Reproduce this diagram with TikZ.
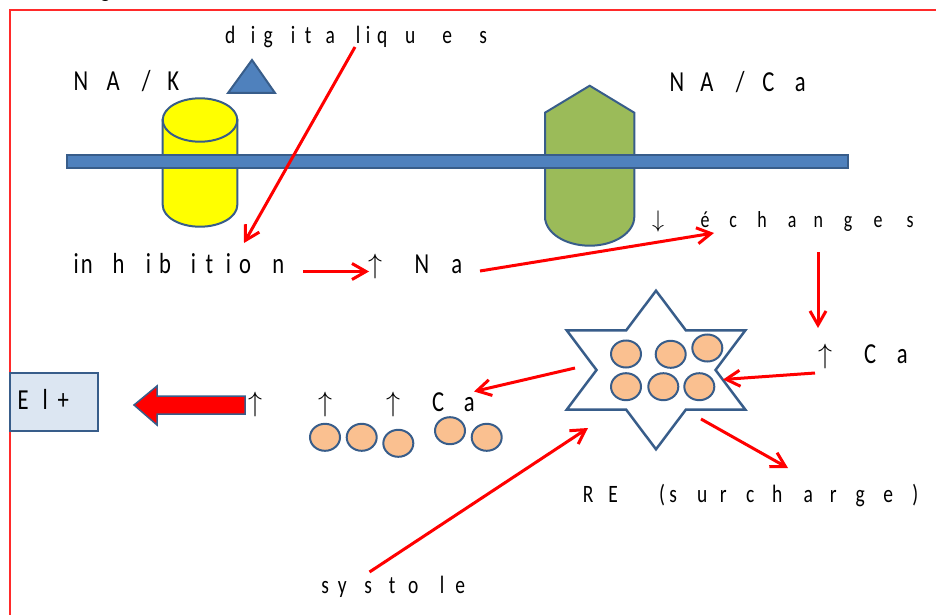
\RequirePackage{fix-cm}
\documentclass[tikz,border=0pt]{standalone}
\usepackage{fontspec}
\usepackage{graphicx}
\setmainfont{Carlito}[FakeStretch=0.78]
\usetikzlibrary{arrows.meta,shapes.geometric}

% one glyph centred on the current point, then a kern to the next glyph centre
\newcommand\glyphat[2]{\hbox to 0pt{\hss#1\hss}\kern#2pt\relax}
\newcommand\up{{\fontsize{28}{30}\selectfont$\uparrow$}}
\newcommand\down{{\fontsize{24}{26}\selectfont$\downarrow$}}

\definecolor{edge}{HTML}{385D8A}
\definecolor{membrane}{HTML}{4F81BD}
\definecolor{pump}{HTML}{FFFF00}
\definecolor{exchanger}{HTML}{9BBB59}
\definecolor{calcium}{HTML}{FAC090}
\definecolor{ecg}{HTML}{DCE6F2}
\definecolor{framered}{HTML}{FF2A2A}

\tikzset{
  lbl/.style={anchor=base west, inner sep=0pt, font=\fontsize{29}{32}\selectfont},
  midlbl/.style={lbl, font=\fontsize{25}{28}\selectfont},
  smalllbl/.style={lbl, font=\fontsize{23}{26}\selectfont},
  flow/.style={draw=red, line width=3pt,
    -{Straight Barb[length=14pt,width=16pt,line width=3pt]}},
  ion/.style={ellipse, draw=edge, line width=2pt, fill=calcium,
    minimum width=30pt, minimum height=27pt, inner sep=0pt},
  outlined/.style={draw=edge, line width=2pt},
}

\begin{document}
\begin{tikzpicture}[x=1pt, y=-1pt]
\useasboundingbox (0,0) rectangle (936,615);

% clipped title fragment above the frame
\begin{scope}
  \clip (0,0) rectangle (936,615);
  \node[lbl] (title) at (100,-3) {g};
\end{scope}

% frame
\draw[framered, line width=1.6pt] (10,615) -- (10,10) -- (936,10);

% Na/K pump (cylinder)
\path[outlined, fill=pump] (162.7,120) -- (162.7,205)
  .. controls (162.7,217) and (179.4,226.7) .. (200,226.7)
  .. controls (220.6,226.7) and (237.3,217) .. (237.3,205)
  -- (237.3,120) -- cycle;
\draw[outlined, fill=pump] (200,120) ellipse [x radius=37.3, y radius=21.7];

% Na/Ca exchanger
\path[outlined, fill=exchanger] (545,112.7) -- (589.7,85.7) -- (634.3,112.7)
  -- (634.3,216.7)
  .. controls (634.3,232.7) and (614.4,245.7) .. (589.7,245.7)
  .. controls (565,245.7) and (545,232.7) .. (545,216.7) -- cycle;

% membrane
\draw[outlined, fill=membrane] (67,155) rectangle (848,168);

% digitalis triangle
\draw[outlined, fill=membrane] (228,93) -- (252,60) -- (275,93) -- cycle;

% reticulum star
\draw[draw=edge, line width=2.5pt, fill=white]
  (656,290.7) -- (685.8,330.3) -- (745.3,330.35) -- (715.5,370)
  -- (745.3,409.65) -- (685.8,409.7) -- (656,449.3) -- (626.2,409.7)
  -- (566.7,409.65) -- (596.5,370) -- (566.7,330.35) -- (626.2,330.3) -- cycle;

% stored calcium
\node[ion] (s1) at (626,354) {};
\node[ion] (s2) at (670.7,354.3) {};
\node[ion] (s3) at (707.3,348) {};
\node[ion] (s4) at (626,386.7) {};
\node[ion] (s5) at (663.3,386.7) {};
\node[ion] (s6) at (699.3,386.7) {};

% released calcium
\node[ion] (c1) at (325,437.3) {};
\node[ion] (c2) at (361.7,437.3) {};
\node[ion] (c3) at (398.3,443.3) {};
\node[ion] (c4) at (450,430.7) {};
\node[ion] (c5) at (486.7,437.3) {};

% ECG box
\node[draw=edge, line width=2pt, fill=ecg, minimum width=87.7pt,
  minimum height=57.7pt, inner sep=0pt] (ei) at (53.85,402.15) {};
\node[lbl] (eitext) at (23,409) {\glyphat{E}{22}\glyphat{l}{18}\glyphat{+}{0}};

% block arrow towards ECG
\draw[draw=edge, line width=1.5pt, fill=red]
  (245,396) -- (157,396) -- (157,386) -- (134,405) -- (157,425)
  -- (157,414) -- (245,414) -- cycle;

% labels
\node[lbl] (nak) at (80.7,90.5)
  {\glyphat{N}{32.3}\glyphat{A}{33}\glyphat{/}{27}\glyphat{K}{0}};
\node[lbl] (naca) at (676.7,91.5)
  {\glyphat{N}{30}\glyphat{A}{33.3}\glyphat{/}{28.3}\glyphat{C}{31.7}\glyphat{a}{0}};
\node[midlbl] (digi) at (230,44)
  {\glyphat{d}{23}\glyphat{i}{15}\glyphat{g}{25}\glyphat{i}{15}\glyphat{t}{22}%
   \glyphat{a}{28}\glyphat{l}{10}\glyphat{i}{14}\glyphat{q}{28}\glyphat{u}{37}%
   \glyphat{e}{36}\glyphat{s}{0}};
\node[smalllbl] (ech) at (658,227)
  {\glyphat{\down}{47}\glyphat{é}{28}\glyphat{c}{29}\glyphat{h}{30}\glyphat{a}{26}%
   \glyphat{n}{30}\glyphat{g}{30}\glyphat{e}{32}\glyphat{s}{0}};
\node[lbl] (inh) at (76,273.3)
  {\glyphat{i}{10.7}\glyphat{n}{31.6}\glyphat{h}{30}\glyphat{i}{16.7}\glyphat{b}{28.3}%
   \glyphat{i}{16}\glyphat{t}{19}\glyphat{i}{16.7}\glyphat{o}{33.3}\glyphat{n}{0}};
\node[lbl] (na) at (375,273.3)
  {\glyphat{\up}{46.7}\glyphat{N}{35}\glyphat{a}{0}};
\node[lbl] (caright) at (825,363)
  {\glyphat{\up}{45}\glyphat{C}{32}\glyphat{a}{0}};
\node[lbl] (caleft) at (255,411)
  {\glyphat{\up}{70}\glyphat{\up}{68}\glyphat{\up}{45}\glyphat{C}{31}\glyphat{a}{0}};
\node[midlbl] (re) at (588,502)
  {\glyphat{R}{25}\glyphat{E}{49}\glyphat{(}{11}\glyphat{s}{29}\glyphat{u}{21}%
   \glyphat{r}{27}\glyphat{c}{27}\glyphat{h}{31}\glyphat{a}{25}\glyphat{r}{27}%
   \glyphat{g}{28}\glyphat{e}{27}\glyphat{)}{0}};
\node[midlbl] (sys) at (325,593)
  {\glyphat{s}{17}\glyphat{y}{26}\glyphat{s}{24}\glyphat{t}{21}\glyphat{o}{29}%
   \glyphat{l}{18}\glyphat{e}{0}};

% connector ends
\coordinate (digiFoot) at (355,47);
\coordinate (inhHead) at (244,243);
\coordinate (inhEnd) at (303,271.5);
\coordinate (naHead) at (369,271.5);
\coordinate (naEnd) at (480,271);
\coordinate (echHead) at (714,233);
\coordinate (echFoot) at (818,252);
\coordinate (caHead) at (818,328);
\coordinate (caEnd) at (815,373);
\coordinate (starRight) at (723,379.5);
\coordinate (starLeft) at (575,368);
\coordinate (caLeftHead) at (474,391.5);
\coordinate (starLow) at (701,419);
\coordinate (reHead) at (788,468);
\coordinate (sysTop) at (369.5,572);
\coordinate (starBottom) at (588,428);

% connectors
\draw[flow] (digiFoot) -- (inhHead);
\draw[flow] (inhEnd) -- (naHead);
\draw[flow] (naEnd) -- (echHead);
\draw[flow] (echFoot) -- (caHead);
\draw[flow] (caEnd) -- (starRight);
\draw[flow] (starLeft) -- (caLeftHead);
\draw[flow] (starLow) -- (reHead);
\draw[flow] (sysTop) -- (starBottom);
\end{tikzpicture}
\end{document}
